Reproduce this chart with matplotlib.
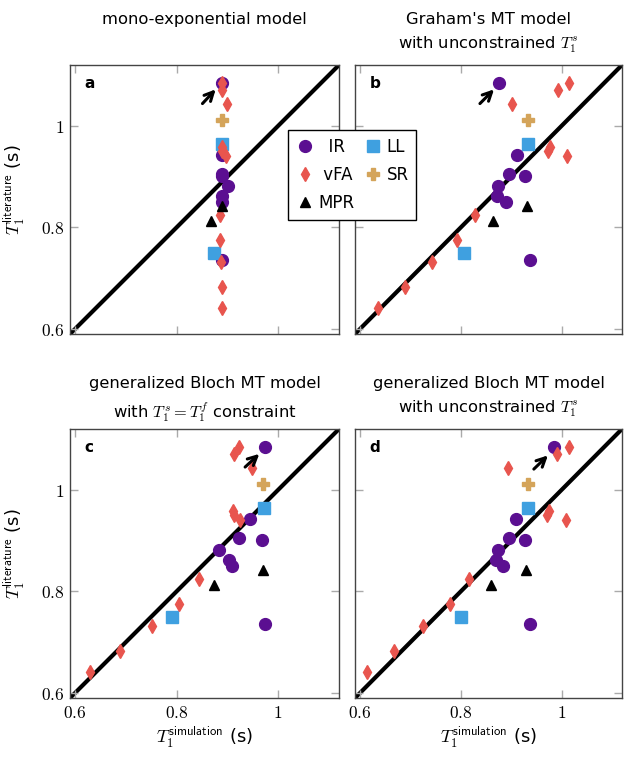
import matplotlib
matplotlib.use("Agg")
import matplotlib.pyplot as plt
from matplotlib.ticker import FuncFormatter

plt.rcParams['mathtext.fontset'] = 'cm'
plt.rcParams['font.family'] = ['DejaVu Sans']

# literature T1 values (s), shared by all panels
ir_lit = [1.084, 0.943, 0.906, 0.901, 0.882, 0.862, 0.851, 0.736]
vfa_lit = [1.085, 1.070, 1.044, 0.958, 0.951, 0.940, 0.825, 0.776, 0.731, 0.682, 0.641]
ll_lit = [0.964, 0.750]
sr_lit = [1.012]
mpr_lit = [0.842, 0.812]

# simulated T1 values (s), one list per panel
ir_sim = {
    'a': [0.889, 0.889, 0.889, 0.890, 0.902, 0.889, 0.889, 0.890],
    'b': [0.876, 0.911, 0.896, 0.928, 0.874, 0.871, 0.890, 0.937],
    'c': [0.974, 0.945, 0.923, 0.969, 0.884, 0.903, 0.909, 0.974],
    'd': [0.985, 0.910, 0.896, 0.928, 0.873, 0.869, 0.884, 0.937],
}
vfa_sim = {
    'a': [0.889, 0.889, 0.900, 0.889, 0.890, 0.897, 0.885, 0.886, 0.887, 0.889, 0.890],
    'b': [1.015, 0.993, 0.901, 0.978, 0.974, 1.010, 0.828, 0.793, 0.743, 0.689, 0.636],
    'c': [0.923, 0.914, 0.949, 0.912, 0.914, 0.925, 0.844, 0.805, 0.751, 0.688, 0.630],
    'd': [1.015, 0.991, 0.894, 0.976, 0.972, 1.009, 0.817, 0.778, 0.725, 0.668, 0.613],
}
ll_sim = {'a': [0.889, 0.874], 'b': [0.933, 0.807], 'c': [0.972, 0.790], 'd': [0.933, 0.800]}
sr_sim = {'a': [0.889], 'b': [0.933], 'c': [0.970], 'd': [0.934]}
mpr_sim = {'a': [0.890, 0.868], 'b': [0.931, 0.864], 'c': [0.970, 0.874], 'd': [0.930, 0.859]}

# arrow (tail, head) pointing at the highlighted IR point
arrows = {
    'a': ((0.851, 1.044), (0.877, 1.072)),
    'b': ((0.838, 1.044), (0.866, 1.072)),
    'c': ((0.935, 1.045), (0.963, 1.071)),
    'd': ((0.945, 1.041), (0.973, 1.068)),
}

titles = {
    'a': 'mono-exponential model',
    'b': "Graham's MT model\nwith unconstrained $T_1^s$",
    'c': 'generalized Bloch MT model\nwith $T_1^s = T_1^f$ constraint',
    'd': 'generalized Bloch MT model\nwith unconstrained $T_1^s$',
}

lims = (0.59, 1.12)
ticks = [0.6, 0.8, 1.0]

c_ir = '#5B0F91'
c_vfa = '#E8554E'
c_ll = '#3FA0E0'
c_sr = '#D4A45A'

W, H = 624, 760
fig = plt.figure(figsize=(W / 100, H / 100), dpi=100)

boxes = {
    'a': (70, 65, 269, 269),
    'b': (355, 65, 267, 269),
    'c': (70, 429, 269, 269),
    'd': (355, 429, 267, 269),
}

fmt = FuncFormatter(lambda v, p: '$%g$' % v)
handles = {}

for key, (x0, y0, w, h) in boxes.items():
    ax = fig.add_axes([x0 / W, 1 - (y0 + h) / H, w / W, h / H])
    ax.plot(lims, lims, color='k', lw=3, zorder=1, solid_capstyle='butt')
    handles['IR'], = ax.plot(ir_sim[key], ir_lit, 'o', color=c_ir, ms=8.5, ls='none', zorder=3)
    handles['LL'], = ax.plot(ll_sim[key], ll_lit, 's', color=c_ll, ms=8, ls='none', zorder=3)
    handles['vFA'], = ax.plot(vfa_sim[key], vfa_lit, 'd', color=c_vfa, ms=7.5, ls='none', zorder=4)
    handles['SR'], = ax.plot(sr_sim[key], sr_lit, 'P', color=c_sr, ms=8, ls='none', zorder=4)
    handles['MPR'], = ax.plot(mpr_sim[key], mpr_lit, '^', color='k', ms=7, ls='none', zorder=4)

    tail, head = arrows[key]
    ax.annotate('', xy=head, xytext=tail,
                arrowprops=dict(arrowstyle='->', lw=2.2, color='k', mutation_scale=16,
                                shrinkA=0, shrinkB=0), zorder=5)

    ax.set_xlim(lims)
    ax.set_ylim(lims)
    ax.set_xticks(ticks)
    ax.set_yticks(ticks)
    ax.tick_params(direction='in', top=True, right=True, length=6, width=1,
                   color='#aaaaaa', labelsize=12.5, pad=4)
    for s in ax.spines.values():
        s.set_color('#444444')
        s.set_linewidth(1)

    ax.xaxis.set_major_formatter(fmt)
    ax.yaxis.set_major_formatter(fmt)
    if key in ('a', 'b'):
        ax.tick_params(labelbottom=False)
    else:
        ax.set_xlabel(r'$T_1^{\mathsf{simulation}}$ (s)', fontsize=13, labelpad=3)
    if key in ('b', 'd'):
        ax.tick_params(labelleft=False)
    else:
        ax.set_ylabel(r'$T_1^{\mathsf{literature}}$ (s)', fontsize=13)
        ax.yaxis.set_label_coords(-0.155, 0.535)

    ax.text(0.5, 1.197, titles[key], transform=ax.transAxes, fontsize=11.8,
            ha='center', va='top', linespacing=1.55)
    ax.text(0.055, 0.93, key, transform=ax.transAxes, fontsize=11,
            fontweight='bold', va='center', ha='left')

order = ['IR', 'vFA', 'MPR', 'LL', 'SR']
labels = ['  IR', ' vFA', 'MPR', 'LL', 'SR']
fig.legend([handles[k] for k in order], labels, ncol=2, loc='upper left',
           bbox_to_anchor=(288 / W, 1 - 130 / H), borderaxespad=0, fontsize=12,
           fancybox=False, edgecolor='k', framealpha=1, borderpad=0.45,
           handletextpad=0.25, columnspacing=0.6, handlelength=1.1,
           labelspacing=0.62)

fig.savefig('out.png', dpi=100)
